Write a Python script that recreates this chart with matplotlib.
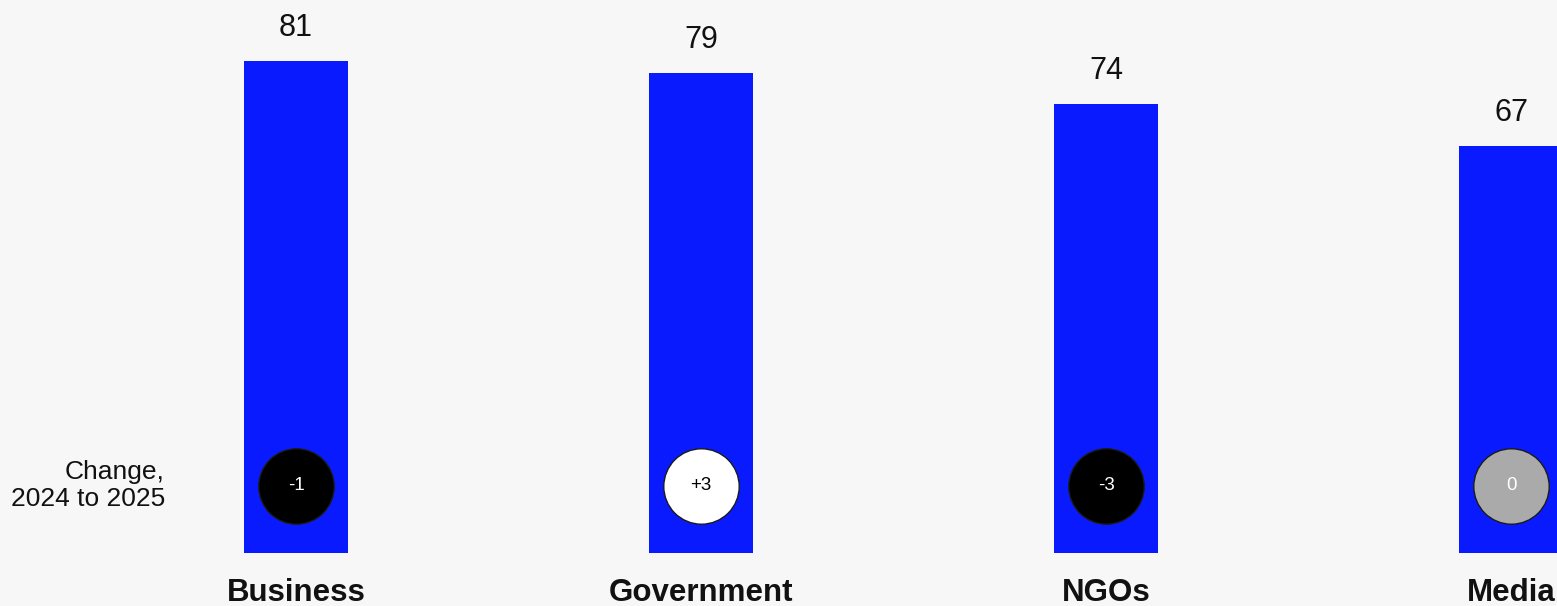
import matplotlib
matplotlib.use("Agg")
import matplotlib.pyplot as plt
from matplotlib import transforms

plt.rcParams["font.family"] = ["Liberation Sans", "DejaVu Sans"]

categories = ["Business", "Government", "NGOs", "Media"]
trust = [81, 79, 74, 67]
change = [-1, 3, -3, 0]

bg = "#f7f7f7"
blue = "#0a1aff"

def badge_style(d):
    # fill colour and text colour of the change circle
    if d > 0:
        return "white", "black"
    if d < 0:
        return "black", "white"
    return "#aaaaaa", "white"

def fmt_change(d):
    return f"+{d}" if d > 0 else str(d)

W, H, dpi = 1557, 606, 100
fig = plt.figure(figsize=(W / dpi, H / dpi), dpi=dpi, facecolor=bg)
ax = fig.add_axes([0, 53 / H, 1, 553 / H])
ax.set_facecolor(bg)

px_per_unit = 6.07
spacing = 405
ax.set_ylim(0, 553 / px_per_unit)
ax.set_xlim(-296 / spacing, (W - 296) / spacing)

x = list(range(len(categories)))
ax.bar(x, trust, width=104 / spacing, color=blue, zorder=1)

badge_y = 67.5 / px_per_unit
for xi, v, d, name in zip(x, trust, change, categories):
    ax.annotate(str(v), (xi, v), xytext=(0, 18), textcoords="offset points",
                ha="center", va="baseline", fontsize=22, color="#111111")
    ax.annotate(name, (xi, 0), xytext=(0, -34.5), textcoords="offset points",
                ha="center", va="baseline", fontsize=22.5, fontweight="bold",
                color="#111111", annotation_clip=False)
    face, tc = badge_style(d)
    ax.scatter([xi], [badge_y], s=2950, color=face, edgecolor="#1a1a1a",
               linewidth=1, zorder=3)
    ax.text(xi, badge_y, fmt_change(d), ha="center", va="center",
            fontsize=13.5, color=tc, zorder=4)

trans = transforms.blended_transform_factory(fig.transFigure, ax.transData)
ax.text(165 / W, badge_y, "Change,\n2024 to 2025", transform=trans,
        ha="right", va="center", multialignment="right", fontsize=19,
        color="#111111", linespacing=1.2)

ax.axis("off")
fig.savefig("out.png", dpi=dpi, facecolor=bg)
